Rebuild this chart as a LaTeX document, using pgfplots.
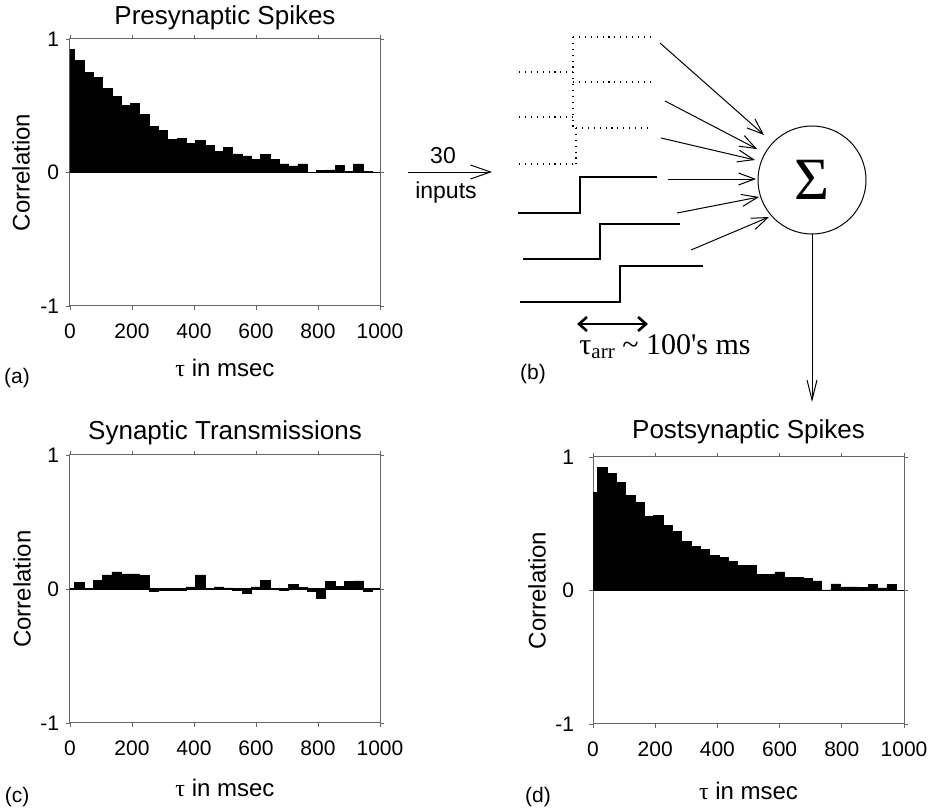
\documentclass[border=0pt]{standalone}
\usepackage{pgfplots}
\pgfplotsset{compat=1.18}
\usepackage{fontspec}
\setmainfont{Liberation Sans}
\newfontfamily\serif{Liberation Serif}
\usetikzlibrary{arrows.meta}

% one px of the reference = 0.5pt
\pgfplotsset{
  every axis title shift=0pt,
  corr/.style={
    scale only axis, anchor=south west,
    xmin=0, xmax=1000, ymin=-1, ymax=1,
    xtick={0,200,400,600,800,1000},
    xticklabels={0,200,400,600,800,1000},
    ytick={-1,0,1}, yticklabels={-1,0,1},
    tick align=outside, major tick length=2pt,
    tick style={black!60, line width=0.4pt},
    axis line style={black!60, line width=0.5pt},
    ticklabel style={font=\fontsize{10.5}{12}\selectfont},
    xticklabel style={yshift=-3.5pt},
    label style={font=\fontsize{12}{14}\selectfont},
    title style={font=\fontsize{13}{15}\selectfont, anchor=center},
    ylabel={Correlation},
    xlabel={{\serif τ} in msec},
    ybar, bar width=30, bar shift=0pt,
  },
  hist/.style={fill=black, draw=black, line width=0.3pt},
  inarrow/.style={-{Straight Barb[length=8pt,width=6pt]}, line width=0.5pt},
  dots/.style={line width=0.55pt, dash pattern=on 0.55pt off 2.4pt},
}

\begin{document}
\begin{tikzpicture}
\useasboundingbox (0,0) rectangle (468.5pt,404pt);

% (a) presynaptic spikes
\begin{axis}[corr, at={(35pt,251pt)}, width=155pt, height=133.5pt,
  title={Presynaptic Spikes},
  title style={at={(0.5,1.079)}},
  ylabel style={at={(axis description cs:-0.158,0.5)}, anchor=center},
  xlabel style={at={(axis description cs:0.5,-0.232)}, anchor=center},
]
\addplot[hist] coordinates {
(0,0.92) (30,0.84) (60,0.75) (90,0.71) (120,0.63) (150,0.57) (180,0.50)
(210,0.515) (240,0.435) (270,0.345) (300,0.315) (330,0.245) (360,0.255)
(390,0.22) (420,0.24) (450,0.20) (480,0.155) (510,0.185) (540,0.14)
(570,0.125) (600,0.10) (630,0.135) (660,0.10) (690,0.065) (720,0.05)
(750,0.065) (780,0.0) (810,0.015) (840,0.02) (870,0.055) (900,0.01)
(930,0.065) (960,0.01)};
\draw[black, line width=0.6pt] (axis cs:0,0) -- (axis cs:1000,0);
\end{axis}

% (c) synaptic transmissions
\begin{axis}[corr, at={(35pt,42.5pt)}, width=155pt, height=134pt,
  title={Synaptic Transmissions},
  title style={at={(0.5,1.082)}},
  ylabel style={at={(axis description cs:-0.155,0.5)}, anchor=center},
  xlabel style={at={(axis description cs:0.5,-0.243)}, anchor=center},
]
\addplot[hist] coordinates {
(0,0.0) (30,0.05) (60,0.005) (90,0.062) (120,0.105) (150,0.127) (180,0.112)
(210,0.112) (240,0.10) (270,-0.015) (300,-0.01) (330,-0.008) (360,-0.008)
(390,0.015) (420,0.105) (450,0.003) (480,0.015) (510,0.008) (540,-0.012)
(570,-0.03) (600,0.015) (630,0.062) (660,0.0) (690,-0.01) (720,0.037)
(750,0.012) (780,-0.018) (810,-0.067) (840,0.055) (870,0.018) (900,0.055)
(930,0.06) (960,-0.015)};
\draw[black, line width=0.6pt] (axis cs:0,0) -- (axis cs:1000,0);
\end{axis}

% (d) postsynaptic spikes
\begin{axis}[corr, at={(296.5pt,42pt)}, width=155.5pt, height=133.5pt,
  title={Postsynaptic Spikes},
  title style={at={(0.5,1.094)}},
  yticklabel style={xshift=-4pt},
  ylabel style={at={(axis description cs:-0.18,0.5)}, anchor=center},
  xlabel style={at={(axis description cs:0.5,-0.251)}, anchor=center},
]
\addplot[hist] coordinates {
(0,0.735) (30,0.925) (60,0.875) (90,0.81) (120,0.715) (150,0.66) (180,0.555)
(210,0.565) (240,0.49) (270,0.44) (300,0.37) (330,0.33) (360,0.31)
(390,0.26) (420,0.25) (450,0.215) (480,0.19) (510,0.19) (540,0.12)
(570,0.12) (600,0.14) (630,0.097) (660,0.097) (690,0.09) (720,0.072)
(750,0.005) (780,0.05) (810,0.027) (840,0.027) (870,0.022) (900,0.045)
(930,0.02) (960,0.045)};
\draw[black, line width=0.6pt] (axis cs:0,0) -- (axis cs:1000,0);
\end{axis}

% (b) schematic, in reference pixel units
\begin{axis}[at={(0pt,0pt)}, anchor=south west, scale only axis,
  width=468.5pt, height=404pt,
  xmin=0, xmax=937, ymin=0, ymax=808, y dir=reverse,
  hide axis, clip=false]
% 30 inputs arrow
\addplot[-{Straight Barb[length=10pt,width=7pt]}, line width=0.5pt]
  coordinates {(408,172) (492,172)};
\node[font=\fontsize{11.5}{13}\selectfont] at (axis cs:443,156) {30};
\node[font=\fontsize{11.5}{13}\selectfont] at (axis cs:446,193) {inputs};
% dotted inputs
\addplot[dots] coordinates {(519,72) (573,72)};
\addplot[dots] coordinates {(573,37) (650,37)};
\addplot[dots] coordinates {(519,117) (573,117)};
\addplot[dots] coordinates {(573,82) (650,82)};
\addplot[dots] coordinates {(519,164) (576,164)};
\addplot[dots] coordinates {(576,128) (651,128)};
\addplot[dots] coordinates {(573,37) (573,128)};
\addplot[dots] coordinates {(576,128) (576,164)};
% solid inputs
\addplot[line width=1.3pt] coordinates {(518,213) (580,213) (580,177) (657,177)};
\addplot[line width=1.3pt] coordinates {(523,259) (600,259) (600,224) (680,224)};
\addplot[line width=1.3pt] coordinates {(520,302) (620,302) (620,266) (703,266)};
% arrows into the sum
\addplot[inarrow] coordinates {(660,43) (764,135)};
\addplot[inarrow] coordinates {(665,101) (757,149)};
\addplot[inarrow] coordinates {(661,138) (755,160)};
\addplot[inarrow] coordinates {(668,179) (756,179)};
\addplot[inarrow] coordinates {(677,213) (759,197)};
\addplot[inarrow] coordinates {(691,250) (769,217)};
\node[circle, draw, line width=0.5pt, minimum size=54pt, inner sep=0pt,
  font=\serif\fontsize{30}{30}\selectfont] at (axis cs:812,180) {Σ};
% output
\addplot[-{Straight Barb[length=10pt,width=5pt]}, line width=0.5pt]
  coordinates {(812,234) (812,402)};
% arrival time
\addplot[{Straight Barb[length=4pt,width=7pt]}-{Straight Barb[length=4pt,width=7pt]},
  line width=1.3pt] coordinates {(577,324) (648,324)};
\node[font=\serif\fontsize{15}{17}\selectfont] at (axis cs:665,347)
  {τ\raisebox{-0.3ex}{\fontsize{10.5}{12}\selectfont arr} \textasciitilde{} 100's ms};
% panel letters
\node[font=\fontsize{10.5}{12}\selectfont] at (axis cs:17,378) {(a)};
\node[font=\fontsize{10.5}{12}\selectfont] at (axis cs:533,374) {(b)};
\node[font=\fontsize{10.5}{12}\selectfont] at (axis cs:17,797) {(c)};
\node[font=\fontsize{10.5}{12}\selectfont] at (axis cs:538,797) {(d)};
\end{axis}
\end{tikzpicture}
\end{document}
